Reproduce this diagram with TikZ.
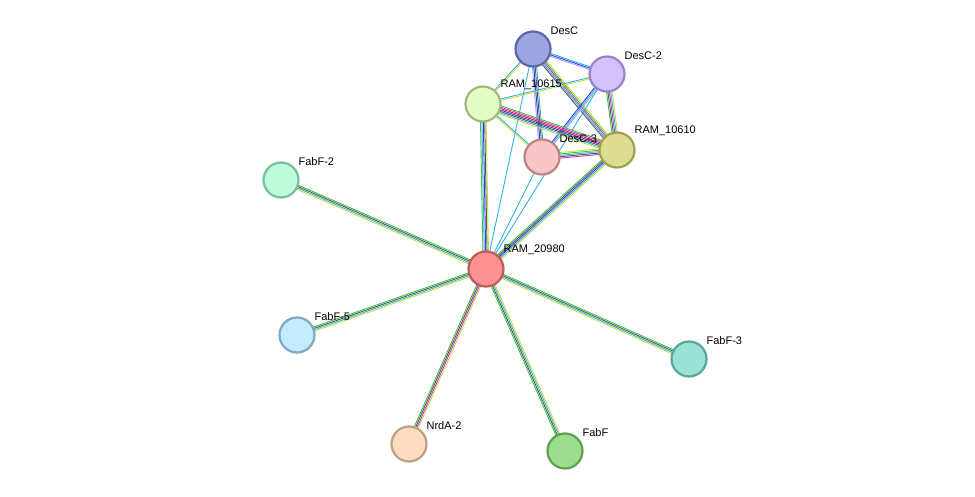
\documentclass[tikz,border=0pt]{standalone}
\usepackage{fontspec}
\setmainfont{Liberation Sans}
\usetikzlibrary{calc}
\definecolor{eg}{HTML}{3CC23C}
\definecolor{eb}{HTML}{3636F0}
\definecolor{ec}{HTML}{2EB6D8}
\definecolor{ek}{HTML}{555555}
\definecolor{em}{HTML}{D030D0}
\definecolor{er}{HTML}{F02020}
\definecolor{ey}{HTML}{C8DC40}
\definecolor{el}{HTML}{A0A0FF}
\newcommand{\stredge}[3]{%
  \foreach \c [count=\n] in {#3}{\xdef\nedge{\n}}
  \foreach \c [count=\i] in {#3}{
    \pgfmathsetmacro{\off}{(\i-(\nedge+1)/2)*1.4}
    \draw[\c] ($(#1)!\off pt!90:(#2)$) -- ($(#2)!\off pt!-90:(#1)$);
  }}
\begin{document}
\begin{tikzpicture}[x=1pt, y=-1pt, line width=0.9pt,
  main/.style = {draw, circle, minimum size=35pt, inner sep=0pt, line width=2.2pt},
  lbl/.style = {anchor=south west, inner sep=0pt, font=\fontsize{11}{13}\selectfont, xshift=4pt, yshift=1pt}]
  \useasboundingbox (0,0) rectangle (975,497);
  \coordinate (DesC) at (533,49);
  \coordinate (DesC2) at (607,74);
  \coordinate (R615) at (483,104);
  \coordinate (DesC3) at (542,157);
  \coordinate (R610) at (617,150);
  \coordinate (FabF2) at (281,180);
  \coordinate (R980) at (486,269);
  \coordinate (FabF5) at (297,335);
  \coordinate (FabF3) at (689,359);
  \coordinate (NrdA2) at (409,444);
  \coordinate (FabF) at (565,451);

  % edges
  \stredge{R980}{FabF2}{eg,ek,ec,ey}
  \stredge{R980}{FabF5}{eg,ek,ec,ey}
  \stredge{R980}{FabF3}{ey,ec,ek,eg}
  \stredge{R980}{FabF}{eg,ek,ec,ey}
  \stredge{R980}{NrdA2}{eg,ek,em,ey}
  \stredge{R980}{R615}{ey,ek,eb,ec,eg}
  \stredge{R980}{R610}{ey,ec,eb,ek,eg}
  \stredge{R980}{DesC3}{ec}
  \stredge{R980}{DesC}{ec}
  \stredge{R980}{DesC2}{ec}
  \stredge{DesC}{R615}{ec,ey}
  \stredge{DesC}{DesC2}{el,eb,ec}
  \stredge{DesC}{DesC3}{el,eb,ek,ec}
  \stredge{DesC}{R610}{ek,ec,em,eg,ey}
  \stredge{DesC2}{R615}{ec,ey}
  \stredge{DesC2}{DesC3}{eb,ec,el}
  \stredge{DesC2}{R610}{eg,ek,em,ec,ey}
  \stredge{R615}{DesC3}{ey,ec}
  \stredge{R615}{R610}{ey,ec,ek,eb,er,em,eg}
  \stredge{DesC3}{R610}{em,ek,ec,eg,ey}

  % nodes
  \node[main, fill={rgb,255:red,155;green,166;blue,224}, draw={rgb,255:red,90;green,102;blue,168}, label={[lbl]45:DesC}] (nDesC) at (DesC) {};
  \node[main, fill={rgb,255:red,212;green,194;blue,250}, draw={rgb,255:red,154;green,130;blue,200}, label={[lbl]45:DesC-2}] (nDesC2) at (DesC2) {};
  \node[main, fill={rgb,255:red,226;green,253;blue,198}, draw={rgb,255:red,162;green,184;blue,128}, label={[lbl]45:RAM\_10615}] (nR615) at (R615) {};
  \node[main, fill={rgb,255:red,248;green,198;blue,198}, draw={rgb,255:red,184;green,132;blue,132}, label={[lbl]45:DesC-3}] (nDesC3) at (DesC3) {};
  \node[main, fill={rgb,255:red,222;green,220;blue,146}, draw={rgb,255:red,160;green,160;blue,80}, label={[lbl]45:RAM\_10610}] (nR610) at (R610) {};
  \node[main, fill={rgb,255:red,189;green,251;blue,219}, draw={rgb,255:red,122;green,191;blue,154}, label={[lbl]45:FabF-2}] (nFabF2) at (FabF2) {};
  \node[main, fill={rgb,255:red,252;green,145;blue,145}, draw={rgb,255:red,192;green,90;blue,90}, label={[lbl]45:RAM\_20980}] (nR980) at (R980) {};
  \node[main, fill={rgb,255:red,195;green,234;blue,254}, draw={rgb,255:red,128;green,168;blue,192}, label={[lbl]45:FabF-5}] (nFabF5) at (FabF5) {};
  \node[main, fill={rgb,255:red,152;green,225;blue,214}, draw={rgb,255:red,88;green,168;blue,152}, label={[lbl]45:FabF-3}] (nFabF3) at (FabF3) {};
  \node[main, fill={rgb,255:red,253;green,220;blue,191}, draw={rgb,255:red,192;green,160;blue,128}, label={[lbl]45:NrdA-2}] (nNrdA2) at (NrdA2) {};
  \node[main, fill={rgb,255:red,156;green,221;blue,144}, draw={rgb,255:red,94;green,160;blue,80}, label={[lbl]45:FabF}] (nFabF) at (FabF) {};
\end{tikzpicture}
\end{document}
